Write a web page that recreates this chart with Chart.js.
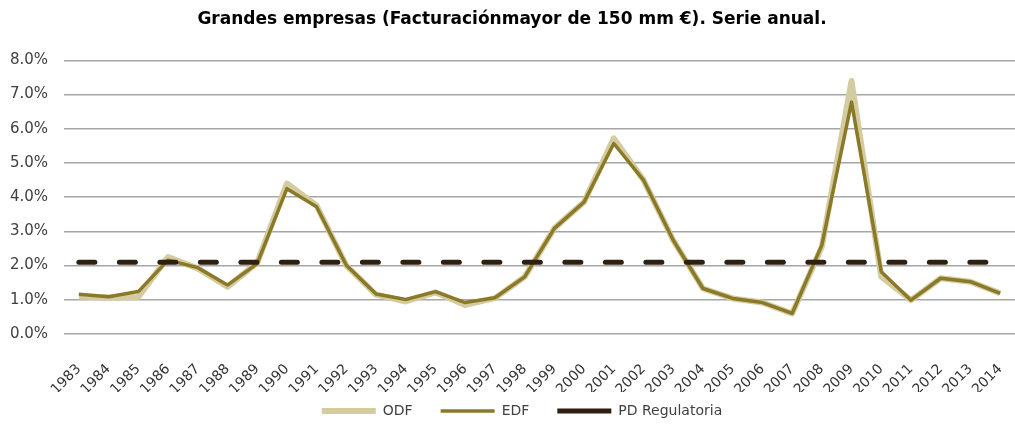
<!DOCTYPE html>
<html lang="es">
  <head>
    <meta charset="UTF-8" />
    <title>Grandes empresas - Serie anual</title>
    <script src="https://cdn.jsdelivr.net/npm/chart.js@4"></script>
    <style>
      body { margin: 0; background: #fff; }
      #wrap { width: 1015px; height: 430px; }
    </style>
  </head>
  <body>
    <div id="wrap">
      <canvas id="myChart"></canvas>
    </div>

    <script>
      // años
      const years = [
        '1983', '1984', '1985', '1986', '1987', '1988', '1989', '1990',
        '1991', '1992', '1993', '1994', '1995', '1996', '1997', '1998',
        '1999', '2000', '2001', '2002', '2003', '2004', '2005', '2006',
        '2007', '2008', '2009', '2010', '2011', '2012', '2013', '2014'
      ];

      // valores en %
      const odf = [
        1.10, 1.07, 1.08, 2.25, 1.92, 1.38, 2.08, 4.40,
        3.75, 2.00, 1.15, 0.95, 1.22, 0.85, 1.05, 1.67,
        3.09, 3.86, 5.72, 4.50, 2.74, 1.33, 1.04, 0.92,
        0.60, 2.55, 7.40, 1.68, 0.99, 1.63, 1.53, 1.19
      ];
      const edf = [
        1.16, 1.09, 1.24, 2.16, 1.94, 1.43, 2.06, 4.25,
        3.72, 2.01, 1.17, 1.01, 1.24, 0.92, 1.06, 1.67,
        3.09, 3.86, 5.57, 4.50, 2.74, 1.33, 1.04, 0.92,
        0.60, 2.60, 6.78, 1.82, 0.99, 1.63, 1.53, 1.19
      ];
      const pdRegulatoria = [
        2.1, 2.1, 2.1, 2.1, 2.1, 2.1, 2.1, 2.1,
        2.1, 2.1, 2.1, 2.1, 2.1, 2.1, 2.1, 2.1,
        2.1, 2.1, 2.1, 2.1, 2.1, 2.1, 2.1, 2.1,
        2.1, 2.1, 2.1, 2.1, 2.1, 2.1, 2.1, 2.1
      ];

      const fontFamily = '"DejaVu Sans", sans-serif';

      const data = {
        labels: years,
        datasets: [
          {
            label: 'ODF',
            data: odf,
            borderColor: 'rgb(212, 203, 160)',
            backgroundColor: 'rgb(212, 203, 160)',
            borderWidth: 6,
            borderJoinStyle: 'round',
            pointRadius: 0,
            order: 3
          },
          {
            label: 'EDF',
            data: edf,
            borderColor: 'rgb(138, 122, 40)',
            backgroundColor: 'rgb(138, 122, 40)',
            borderWidth: 3.5,
            borderJoinStyle: 'round',
            pointRadius: 0,
            order: 2
          },
          {
            label: 'PD Regulatoria',
            data: pdRegulatoria,
            borderColor: 'rgb(46, 31, 16)',
            backgroundColor: 'rgb(46, 31, 16)',
            borderWidth: 5,
            borderDash: [16, 24.5],
            borderCapStyle: 'round',
            pointRadius: 0,
            order: 1
          }
        ]
      };

      // leyenda: altura fija, dibujada un poco más arriba y a la derecha
      const legendTweak = {
        id: 'legendTweak',
        beforeInit(chart) {
          const lg = chart.legend;
          if (!lg) return;
          const fit = lg.fit;
          lg.fit = function () {
            fit.call(this);
            this.height = 38;
          };
          const draw = lg.draw;
          lg.draw = function () {
            const top = this.top, left = this.left, right = this.right;
            this.top = top - 16;
            this.left = left + 10;
            this.right = right + 10;
            draw.call(this);
            this.top = top;
            this.left = left;
            this.right = right;
          };
        }
      };

      const config = {
        type: 'line',
        data: data,
        plugins: [legendTweak],
        options: {
          responsive: true,
          maintainAspectRatio: false,
          animation: false,
          layout: {
            padding: { left: 0, right: -9, top: 0, bottom: 0 }
          },
          scales: {
            x: {
              offset: true,
              grid: { display: false },
              border: { display: false },
              ticks: {
                autoSkip: false,
                minRotation: 45,
                maxRotation: 45,
                padding: 19,
                color: '#333',
                font: { family: fontFamily, size: 14 }
              },
              afterFit: (scale) => {
                scale.height = 58;
                scale.paddingLeft = 0;
                scale.paddingRight = 0;
              }
            },
            y: {
              min: 0,
              max: 8,
              border: { display: false },
              grid: {
                color: '#a6a6a6',
                lineWidth: 1.5,
                drawTicks: false
              },
              ticks: {
                stepSize: 1,
                padding: 16,
                color: '#404040',
                font: { family: fontFamily, size: 15 },
                callback: (v) => v.toFixed(1) + '%'
              },
              afterFit: (scale) => { scale.width = 64; }
            }
          },
          plugins: {
            title: {
              display: true,
              text: 'Grandes empresas (Facturaciónmayor de 150 mm €). Serie anual.',
              color: '#000',
              font: { family: fontFamily, size: 17, weight: 'bold' },
              padding: { top: 9, bottom: 31 }
            },
            legend: {
              position: 'bottom',
              labels: {
                usePointStyle: true,
                pointStyle: 'line',
                pointStyleWidth: 54,
                padding: 28,
                color: '#404040',
                font: { family: fontFamily, size: 14 },
                sort: (a, b) => a.datasetIndex - b.datasetIndex
              }
            },
            tooltip: { enabled: false }
          }
        }
      };

      const myChart = new Chart(document.getElementById('myChart'), config);
    </script>
  </body>
</html>
